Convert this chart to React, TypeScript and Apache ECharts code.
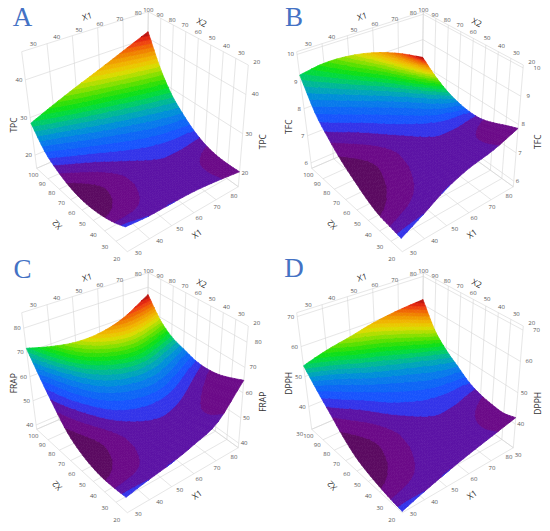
import React, { useEffect, useRef } from "react";
import * as echarts from "echarts";

// ---------------- data ----------------
const X1_VALUES = [30, 40, 50, 60, 70, 80];
const X2_VALUES = [20, 30, 40, 50, 60, 70, 80, 90, 100];
const X1_TICKS = [30, 40, 50, 60, 70, 80];
const X2_TICKS = [20, 30, 40, 50, 60, 70, 80, 90, 100];

// rows: X1 = 30..80, columns: X2 = 20..100 (surface heights)
const TPC = [
  [22.4, 21.0, 20.0, 19.4, 19.3, 19.9, 21.3, 23.7, 28.5],
  [21.9, 21.1, 20.6, 20.3, 20.3, 21.1, 22.8, 25.7, 31.0],
  [21.9, 21.5, 21.3, 21.2, 21.4, 22.4, 24.3, 27.7, 33.5],
  [21.8, 21.6, 21.6, 21.7, 22.2, 23.5, 25.7, 29.6, 36.0],
  [21.2, 21.1, 21.2, 21.7, 22.6, 24.5, 27.1, 31.8, 38.8],
  [20.3, 20.2, 20.4, 21.2, 22.8, 25.3, 28.6, 34.0, 41.8],
];
const TFC = [
  [6.24, 6.3, 6.37, 6.56, 6.84, 7.16, 7.61, 8.2, 9.24],
  [6.61, 6.66, 6.71, 6.87, 7.13, 7.43, 7.86, 8.42, 9.37],
  [7.04, 7.05, 7.06, 7.16, 7.36, 7.62, 8.0, 8.51, 9.33],
  [7.34, 7.31, 7.27, 7.31, 7.45, 7.67, 7.99, 8.44, 9.14],
  [7.53, 7.45, 7.36, 7.33, 7.4, 7.57, 7.84, 8.22, 8.79],
  [7.86, 7.7, 7.52, 7.38, 7.36, 7.44, 7.61, 7.9, 8.3],
];
const FRAP = [
  [43.9, 43.4, 43.2, 43.9, 45.7, 49.1, 55.3, 62.9, 71.7],
  [45.6, 44.6, 44.0, 44.2, 45.6, 48.5, 53.7, 60.5, 68.9],
  [47.1, 45.8, 44.8, 44.8, 45.9, 48.4, 52.8, 59.0, 67.1],
  [49.5, 48.0, 46.9, 46.8, 47.7, 50.0, 53.6, 59.2, 67.3],
  [53.3, 51.8, 50.7, 50.5, 51.5, 53.7, 56.7, 62.0, 70.2],
  [64.9, 62.9, 61.2, 60.5, 60.9, 62.6, 64.6, 69.0, 76.7],
];
const DPPH = [
  [32.8, 33.3, 34.1, 35.2, 36.9, 40.0, 44.2, 48.6, 53.6],
  [34.8, 35.1, 35.8, 36.8, 38.7, 41.7, 45.7, 50.1, 55.9],
  [36.7, 36.7, 37.3, 38.3, 40.1, 42.9, 46.9, 51.3, 57.6],
  [38.5, 38.2, 38.8, 39.8, 41.5, 44.4, 48.0, 52.5, 59.6],
  [40.2, 39.6, 40.0, 40.8, 42.6, 45.3, 48.8, 53.4, 60.9],
  [42.0, 40.9, 41.1, 41.8, 43.3, 46.1, 49.1, 53.6, 61.7],
];
// the source figure paints every surface with the same colour pattern (that of TPC)
const SHADE = TPC;

const TPC_TICKS = [20, 30, 40];
const TFC_TICKS = [6, 7, 8, 9, 10];
const FRAP_TICKS = [40, 50, 60, 70, 80];
const DPPH_TICKS = [30, 40, 50, 60, 70];

const TPC_RANGE = [16.5, 47.5];
const TFC_RANGE = [5.8, 10.1];
const FRAP_RANGE = [38.2, 86.4];
const DPPH_RANGE = [32.4, 71.3];

const BAND_COUNT = 26;

// ---------------- layout / style ----------------
const PANEL_W = 275;
const PANEL_H = 265;
const SUB = 4; // drawing subdivisions per grid cell
// projected box corners inside one panel (front/right/left/back at floor "0" and top "1")
const BOX = {
  f0: [127.3, 251.7], r0: [238.3, 186.7], l0: [36.7, 168.3], b0: [146.7, 120.7],
  f1: [117, 121.3], r1: [248.3, 65], l1: [21.7, 51.7], b1: [148.3, 11.7],
};
const TOP_X1 = [[33.3, 44], [89.5, 27.3], [138.3, 13.3]];
const TOP_X2 = [[148.3, 10], [198.3, 31.7], [256.7, 61.7]];
const BOT_X2 = [[33.3, 175], [71.7, 213.3], [116.7, 259.3]];
const BOT_X1 = [[138.3, 253.3], [189.5, 223.3], [234, 196]];

const COLOR_STOPS: [number, string][] = [
  [0.0, "#4a0e4c"], [0.03, "#64086c"], [0.06, "#6c0a8a"], [0.1, "#5a14a8"],
  [0.12, "#4624d0"], [0.14, "#2e3af2"], [0.165, "#1c50ff"], [0.2, "#1060f8"],
  [0.24, "#0a74f0"], [0.29, "#0090d8"], [0.34, "#00acb0"], [0.39, "#00c47c"],
  [0.43, "#00d848"], [0.49, "#10e010"], [0.55, "#50e000"], [0.61, "#98e000"],
  [0.67, "#d8dc00"], [0.73, "#f0c000"], [0.79, "#f09c00"], [0.85, "#f07400"],
  [0.9, "#f04810"], [0.95, "#e02010"], [1.0, "#a80c0c"],
];

const TICK_FONT = "'Open Sans', 'DejaVu Sans', sans-serif";
const LETTER_FONT = "'Liberation Serif', 'DejaVu Serif', serif";

const PANELS = [
  { letter: "A", name: "TPC", values: TPC, ticks: TPC_TICKS, range: TPC_RANGE, ox: 0, oy: 0, ly: 125, ry: 141.7, letterPos: [22.5, 17] },
  { letter: "B", name: "TFC", values: TFC, ticks: TFC_TICKS, range: TFC_RANGE, ox: 275, oy: 0, ly: 126.7, ry: 141.7, letterPos: [19, 16.5] },
  { letter: "C", name: "FRAP", values: FRAP, ticks: FRAP_TICKS, range: FRAP_RANGE, ox: 0, oy: 261, ly: 122.3, ry: 140.7, letterPos: [22.5, 8] },
  { letter: "D", name: "DPPH", values: DPPH, ticks: DPPH_TICKS, range: DPPH_RANGE, ox: 275, oy: 261, ly: 122.3, ry: 142.3, letterPos: [19, 7] },
];

// ---------------- helpers ----------------
function hexToRgb(h: string) {
  return [parseInt(h.slice(1, 3), 16), parseInt(h.slice(3, 5), 16), parseInt(h.slice(5, 7), 16)];
}
function colorAt(t: number) {
  t = Math.max(0, Math.min(1, t));
  for (let k = 1; k < COLOR_STOPS.length; k++) {
    const [t1, c1] = COLOR_STOPS[k];
    const [t0, c0] = COLOR_STOPS[k - 1];
    if (t <= t1) {
      const f = (t - t0) / (t1 - t0);
      const a = hexToRgb(c0), b = hexToRgb(c1);
      const r = a.map((x, i) => Math.round(x + (b[i] - x) * f));
      return `rgb(${r[0]},${r[1]},${r[2]})`;
    }
  }
  return COLOR_STOPS[COLOR_STOPS.length - 1][1];
}
function bil(a: number[], b: number[], c: number[], d: number[], u: number, v: number) {
  const k0 = (1 - u) * (1 - v), k1 = u * (1 - v), k2 = (1 - u) * v, k3 = u * v;
  return [a[0] * k0 + b[0] * k1 + c[0] * k2 + d[0] * k3, a[1] * k0 + b[1] * k1 + c[1] * k2 + d[1] * k3];
}
function project(u: number, v: number, w: number) {
  const p = bil(BOX.f0, BOX.r0, BOX.l0, BOX.b0, u, v);
  const q = bil(BOX.f1, BOX.r1, BOX.l1, BOX.b1, u, v);
  return [p[0] + (q[0] - p[0]) * w, p[1] + (q[1] - p[1]) * w];
}
function quad(P: number[][], t: number) {
  const a = (1 - t) * (1 - 2 * t), b = 4 * t * (1 - t), c = t * (2 * t - 1);
  return [P[0][0] * a + P[1][0] * b + P[2][0] * c, P[0][1] * a + P[1][1] * b + P[2][1] * c];
}
const uOf = (x1: number) => (x1 - X1_VALUES[0]) / (X1_VALUES[X1_VALUES.length - 1] - X1_VALUES[0]);
const vOf = (x2: number) => (x2 - X2_VALUES[0]) / (X2_VALUES[X2_VALUES.length - 1] - X2_VALUES[0]);

// smooth (Catmull-Rom) drawing of a gridded surface between its grid nodes
function gridAt(G: number[][], i: number, j: number): number {
  const n = G.length, m = G[0].length;
  if (i < 0) return 2 * gridAt(G, 0, j) - gridAt(G, 1, j);
  if (i > n - 1) return 2 * gridAt(G, n - 1, j) - gridAt(G, n - 2, j);
  if (j < 0) return 2 * G[i][0] - G[i][1];
  if (j > m - 1) return 2 * G[i][m - 1] - G[i][m - 2];
  return G[i][j];
}
function cr(p0: number, p1: number, p2: number, p3: number, t: number) {
  return 0.5 * (2 * p1 + (-p0 + p2) * t + (2 * p0 - 5 * p1 + 4 * p2 - p3) * t * t + (-p0 + 3 * p1 - 3 * p2 + p3) * t * t * t);
}
function smoothAt(G: number[][], s: number, t: number) {
  const n = G.length, m = G[0].length;
  const i = Math.min(Math.floor(s), n - 2), j = Math.min(Math.floor(t), m - 2);
  const fs = s - i, ft = t - j;
  const rows = [-1, 0, 1, 2].map((di) =>
    cr(gridAt(G, i + di, j - 1), gridAt(G, i + di, j), gridAt(G, i + di, j + 1), gridAt(G, i + di, j + 2), ft));
  return cr(rows[0], rows[1], rows[2], rows[3], fs);
}

type V = { u: number; v: number; w: number; c: number };
function clipHalf(poly: V[], f: (p: V) => number): V[] {
  const out: V[] = [];
  for (let k = 0; k < poly.length; k++) {
    const a = poly[k], b = poly[(k + 1) % poly.length];
    const fa = f(a), fb = f(b);
    if (fa >= 0) out.push(a);
    if ((fa >= 0) !== (fb >= 0)) {
      const t = fa / (fa - fb);
      out.push({ u: a.u + (b.u - a.u) * t, v: a.v + (b.v - a.v) * t, w: a.w + (b.w - a.w) * t, c: a.c + (b.c - a.c) * t });
    }
  }
  return out;
}

const flat = SHADE.flat();
const S_MIN = Math.min(...flat);
const S_MAX = Math.max(...flat);
const BW = (S_MAX - S_MIN) / BAND_COUNT;
const BAND_COLORS = Array.from({ length: BAND_COUNT }, (_, k) => colorAt((k + 0.5) / BAND_COUNT));

function buildOption() {
  const grid: any[] = [], xAxis: any[] = [], yAxis: any[] = [], series: any[] = [];
  const nI = X1_VALUES.length - 1, nJ = X2_VALUES.length - 1;
  PANELS.forEach((p, idx) => {
    grid.push({ left: p.ox, top: p.oy, width: PANEL_W, height: PANEL_H });
    xAxis.push({ type: "value", gridIndex: idx, min: 0, max: PANEL_W, show: false });
    yAxis.push({ type: "value", gridIndex: idx, min: 0, max: PANEL_H, inverse: true, show: false });
    const [zMin, zMax] = p.range;
    const wOf = (z: number) => (z - zMin) / (zMax - zMin);

    // ---- grid lines on back walls and floor
    const segs: number[][][] = [];
    const wLevels = [0, ...p.ticks.filter((t) => t >= zMin && t <= zMax).map(wOf), 1];
    X1_TICKS.forEach((t) => segs.push([[uOf(t), 1, 0], [uOf(t), 1, 1]]));
    X2_TICKS.forEach((t) => segs.push([[1, vOf(t), 0], [1, vOf(t), 1]]));
    wLevels.forEach((w) => {
      segs.push([[0, 1, w], [1, 1, w]]);
      segs.push([[1, 0, w], [1, 1, w]]);
    });
    X1_TICKS.forEach((t) => segs.push([[uOf(t), 0, 0], [uOf(t), 1, 0]]));
    X2_TICKS.forEach((t) => segs.push([[0, vOf(t), 0], [1, vOf(t), 0]]));
    series.push({
      type: "custom", xAxisIndex: idx, yAxisIndex: idx, z: 1, silent: true,
      data: segs.map(() => [0, 0]),
      renderItem: (params: any, api: any) => {
        const s = segs[params.dataIndex];
        const a = api.coord(project(s[0][0], s[0][1], s[0][2]));
        const b = api.coord(project(s[1][0], s[1][1], s[1][2]));
        return { type: "line", shape: { x1: a[0], y1: a[1], x2: b[0], y2: b[1] }, style: { stroke: "#d5d5d5", lineWidth: 0.6 } };
      },
    });

    // ---- surface cells, far to near
    const cells: number[][] = [];
    for (let i = 0; i < nI; i++) for (let j = 0; j < nJ; j++) cells.push([i, j]);
    cells.sort((a, b) => (b[0] / nI + b[1] / nJ) - (a[0] / nI + a[1] / nJ));
    const subs: number[][] = [];
    for (let a = 0; a < SUB; a++) for (let b = 0; b < SUB; b++) subs.push([a, b]);
    subs.sort((x, y) => (y[0] / nI + y[1] / nJ) - (x[0] / nI + x[1] / nJ));
    series.push({
      type: "custom", xAxisIndex: idx, yAxisIndex: idx, z: 2, silent: true,
      data: cells,
      renderItem: (params: any, api: any) => {
        const i = api.value(0), j = api.value(1);
        const node: V[][] = [];
        for (let a = 0; a <= SUB; a++) {
          node.push([]);
          for (let b = 0; b <= SUB; b++) {
            const s = i + a / SUB, t = j + b / SUB;
            node[a].push({ u: s / nI, v: t / nJ, w: wOf(smoothAt(p.values, s, t)), c: smoothAt(SHADE, s, t) });
          }
        }
        const children: any[] = [];
        subs.forEach(([a, b]) => {
          const c0 = node[a][b], c1 = node[a + 1][b], c2 = node[a + 1][b + 1], c3 = node[a][b + 1];
          [[c0, c1, c2], [c0, c2, c3]].forEach((tri) => {
            const cs = tri.map((q) => q.c);
            const kLo = Math.max(0, Math.floor((Math.min(...cs) - S_MIN) / BW));
            const kHi = Math.min(BAND_COUNT - 1, Math.max(0, Math.floor((Math.max(...cs) - S_MIN) / BW)));
            for (let k = kLo; k <= kHi; k++) {
              const lo = k === 0 ? -Infinity : S_MIN + k * BW;
              const hi = k === BAND_COUNT - 1 ? Infinity : S_MIN + (k + 1) * BW;
              let poly = clipHalf(tri, (q) => q.c - lo);
              poly = clipHalf(poly, (q) => hi - q.c);
              if (poly.length < 3) continue;
              const pts = poly.map((q) => api.coord(project(q.u, q.v, q.w)));
              children.push({ type: "polygon", shape: { points: pts }, style: { fill: BAND_COLORS[k], stroke: BAND_COLORS[k], lineWidth: 0.7 } });
            }
          });
        });
        return { type: "group", children };
      },
    });

    // ---- texts
    const texts: any[] = [];
    const tick = (text: string, x: number, y: number, align = "center") =>
      texts.push({ text, x, y, rot: 0, align, size: 6, color: "#555", font: TICK_FONT });
    X1_TICKS.forEach((t) => { const q = quad(TOP_X1, uOf(t)); tick(String(t), q[0], q[1]); });
    X2_TICKS.forEach((t) => { const q = quad(TOP_X2, 1 - vOf(t)); tick(String(t), q[0], q[1]); });
    X2_TICKS.forEach((t) => { const q = quad(BOT_X2, 1 - vOf(t)); tick(String(t), q[0], q[1]); });
    X1_TICKS.forEach((t) => { const q = quad(BOT_X1, uOf(t)); tick(String(t), q[0], q[1]); });
    p.ticks.forEach((t) => {
      const w = wOf(t);
      const a = project(0, 1, w);
      // a tick at the floor corner sits next to the X2 "100" label
      tick(String(t), a[0] - (w < 0.03 ? 9.5 : 3), a[1] - (w < 0.03 ? 2 : 0), "right");
      const b = project(1, 0, w);
      tick(String(t), b[0] + 2 + 9 * Math.max(0, w) ** 3, b[1], "left");
    });
    const title = (text: string, x: number, y: number, deg: number) =>
      texts.push({ text, x, y, rot: (deg * Math.PI) / 180, align: "center", size: 8.5, color: "#333", font: TICK_FONT });
    title("X1", 87, 16, 16);
    title("X2", 202, 22, -25.5);
    title("X2", 56.7, 225, 135);
    title("X1", 196.7, 233.3, 35);
    title(p.name, 13.3, p.ly, 90);
    title(p.name, 262.5, p.ry, 90);
    texts.push({ text: p.letter, x: p.letterPos[0], y: p.letterPos[1], rot: 0, align: "center", size: 27, color: "#4472c4", font: LETTER_FONT });

    series.push({
      type: "custom", xAxisIndex: idx, yAxisIndex: idx, z: 3, silent: true,
      data: texts.map(() => [0, 0]),
      renderItem: (params: any, api: any) => {
        const t = texts[params.dataIndex];
        const c = api.coord([t.x, t.y]);
        return {
          type: "text", x: c[0], y: c[1], rotation: t.rot,
          style: { text: t.text, fill: t.color, fontSize: t.size, fontFamily: t.font, align: t.align, verticalAlign: "middle" },
        };
      },
    });
  });
  return { animation: false, backgroundColor: "#ffffff", grid, xAxis, yAxis, series };
}

export default function App() {
  const ref = useRef<HTMLDivElement>(null);
  useEffect(() => {
    if (!ref.current) return;
    const chart = echarts.init(ref.current, null, { renderer: "svg" });
    chart.setOption(buildOption() as any);
    return () => chart.dispose();
  }, []);
  return <div ref={ref} style={{ position: "fixed", left: 0, top: 0, width: 550, height: 531, background: "#fff" }} />;
}
